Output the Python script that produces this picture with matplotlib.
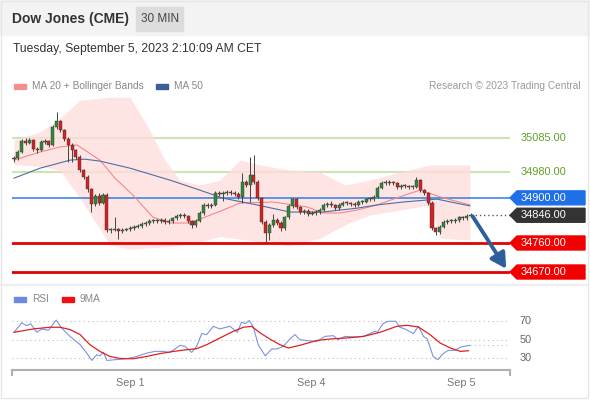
import numpy as np
import matplotlib.pyplot as plt
from matplotlib.patches import Rectangle, Polygon
from matplotlib.lines import Line2D
from matplotlib import transforms

plt.rcParams['font.family'] = ['Liberation Sans', 'DejaVu Sans']

# ---- candles (30 min) ----
first_open = 35020
closes = [35023, 35042, 35076, 35070, 35079, 35051, 35048, 35073, 35076, 35064,
          35120, 35138, 35110, 35082, 35064, 35048, 35027, 34986, 34965, 34927,
          34881, 34906, 34884, 34909, 34800, 34800, 34803, 34797, 34800, 34803,
          34806, 34810, 34813, 34819, 34822, 34828, 34828, 34828, 34831, 34825,
          34828, 34837, 34844, 34847, 34844, 34828, 34816, 34828, 34853, 34878,
          34875, 34878, 34915, 34912, 34915, 34918, 34915, 34912, 34903, 34949,
          34940, 34971, 34949, 34899, 34825, 34791, 34816, 34831, 34822, 34806,
          34840, 34875, 34896, 34872, 34856, 34859, 34850, 34853, 34856, 34862,
          34878, 34881, 34878, 34868, 34878, 34884, 34884, 34881, 34878, 34887,
          34887, 34896, 34896, 34903, 34930, 34946, 34949, 34946, 34946, 34934,
          34937, 34937, 34934, 34934, 34955, 34924, 34915, 34884, 34806, 34794,
          34810, 34825, 34828, 34828, 34831, 34840, 34837, 34844, 34846]
highs = [35030, 35048, 35082, 35085, 35086, 35084, 35058, 35080, 35084, 35080,
         35126, 35166, 35142, 35114, 35088, 35070, 35052, 35032, 34990, 34970,
         34932, 34912, 34914, 34915, 34914, 34808, 34840, 34808, 34806, 34808,
         34812, 34815, 34818, 34824, 34828, 34833, 34834, 34833, 34836, 34836,
         34834, 34842, 34850, 34853, 34852, 34848, 34832, 34834, 34858, 34884,
         34884, 34884, 34920, 34920, 34922, 34923, 34924, 34920, 34917, 34977,
         34955, 35027, 35033, 34954, 34904, 34830, 34822, 34850, 34836, 34828,
         34845, 34880, 34901, 34901, 34876, 34864, 34864, 34858, 34861, 34867,
         34883, 34887, 34890, 34882, 34884, 34890, 34889, 34888, 34886, 34892,
         34892, 34901, 34902, 34908, 34936, 34952, 34956, 34954, 34952, 34950,
         34943, 34942, 34941, 34940, 34965, 34959, 34928, 34919, 34889, 34810,
         34815, 34830, 34833, 34834, 34836, 34845, 34844, 34850, 34852]
lows = [35012, 35018, 35038, 35064, 35066, 35045, 35040, 35044, 35068, 35058,
        35060, 35114, 35104, 35076, 35011, 35011, 35020, 34980, 34958, 34918,
        34856, 34875, 34878, 34880, 34794, 34792, 34796, 34772, 34792, 34796,
        34798, 34800, 34805, 34808, 34814, 34817, 34822, 34821, 34822, 34819,
        34820, 34823, 34832, 34838, 34838, 34822, 34806, 34810, 34824, 34848,
        34869, 34870, 34874, 34906, 34890, 34910, 34909, 34906, 34897, 34884,
        34934, 34887, 34943, 34892, 34818, 34763, 34770, 34810, 34815, 34798,
        34800, 34835, 34870, 34866, 34850, 34851, 34845, 34846, 34848, 34851,
        34858, 34873, 34873, 34862, 34863, 34874, 34878, 34876, 34873, 34874,
        34882, 34883, 34890, 34891, 34898, 34926, 34941, 34940, 34940, 34928,
        34929, 34931, 34929, 34928, 34930, 34918, 34909, 34878, 34800, 34785,
        34789, 34805, 34820, 34822, 34823, 34826, 34831, 34832, 34840]

# ---- indicators (candle index, value) ----
ma20_idx = [0, 6.7, 11.9, 16.3, 22.2, 26.1, 30.7, 35.9, 40.3, 45.5, 54, 58.4,
            66.9, 75.7, 79.8, 84.2, 88.6, 93.8, 99.7, 104.9, 110.1, 117.8]
ma20_val = [35017, 35042, 35058, 35064, 35017, 34961, 34909, 34840, 34822, 34822,
            34862, 34884, 34887, 34872, 34853, 34853, 34862, 34878, 34903, 34924,
            34903, 34878]
ma50_idx = [0, 6.7, 14.5, 18.3, 22.2, 30, 40.3, 48, 54, 62.8, 71.3, 79.8, 88.6,
            93.8, 100.5, 109.3, 117.8]
ma50_val = [34961, 34992, 35017, 35020, 35014, 34992, 34955, 34924, 34899, 34878,
            34856, 34856, 34868, 34878, 34887, 34896, 34875]
bb_idx = [0, 6.7, 11.9, 17, 24.8, 30, 35.1, 39, 42.9, 48, 53.2, 58.4, 63.6,
          71.3, 79.1, 85.5, 92, 99.7, 107.5, 110.1, 117.8]
bb_upper = [35079, 35104, 35147, 35203, 35212, 35212, 35110, 35017, 34955, 34940,
            34955, 35017, 35002, 34986, 34980, 34940, 34955, 34980, 35002, 35002,
            35002]
bb_lower = [35002, 34998, 34985, 34900, 34754, 34741, 34745, 34748, 34752, 34763,
            34780, 34772, 34763, 34751, 34775, 34816, 34847, 34862, 34878, 34775,
            34769]

# ---- levels ----
resistances = [35085, 34980]
pivot = 34900
last_price = 34846
supports = [34760, 34670]

# ---- RSI panel ----
rsi_idx = [0, 2, 3.3, 4.3, 5.9, 7.2, 8.9, 10.9, 12.3, 14.5, 17.1, 18.8, 20.1, 21.4,
           22.2, 23.1, 24, 26.1, 29.1, 31.7, 34.3, 36.4, 38.6, 40.3, 42.9, 44.2,
           45.9, 47.2, 48.5, 49.8, 51.5, 53.2, 55.8, 57.7, 58.8, 59.7, 60.8, 61.8,
           63.1, 64.9, 66.6, 67.9, 69.6, 71.3, 72.6, 73.9, 75.6, 78.2, 80.4, 82.5,
           83.8, 85.5, 88.1, 90.3, 92, 93.3, 93.9, 95.3, 96.7, 98.7, 99.7, 101,
           103.2, 104.5, 105.8, 106.8, 108.3, 109.5, 110.9, 112.2, 113.9, 115.4, 117.8]
rsi_val = [57.9, 68, 65, 67, 58, 61.5, 60, 71, 62.5, 53.5, 44.6, 35.6, 27.7, 33.8,
           32.7, 36.3, 27.7, 28.5, 29.5, 32, 35.6, 37.4, 37.4, 36.3, 43.9, 42.8,
           36.3, 42.8, 56.5, 55.4, 64.3, 61.5, 64.3, 57.9, 68.7, 67.3, 70.4, 64.3,
           44.6, 32.7, 40, 40, 42.8, 50.7, 55.4, 50, 49, 48.2, 53.5, 54.3,
           50, 53.5, 52.9, 53.5, 56.5, 59, 57.9, 67, 69.7, 69.7, 63.3, 61.5,
           56.5, 64.3, 53.5, 50.7, 32, 28.5, 35, 38.5, 38.5, 42.1, 43.9]
ma9_idx = [0, 5, 9.3, 11.9, 14.5, 17.1, 19.6, 22.2, 24.8, 27.4, 30.8, 34.3, 37.7,
           41.2, 44.6, 47.2, 49.8, 53.2, 56.7, 59.3, 61.4, 63.6, 66.1, 68.7, 70.9,
           73.9, 78.2, 81.7, 86, 90.3, 94.6, 98.9, 101.5, 104.5, 107.5, 110.1,
           112.8, 115.4, 117.4]
ma9_val = [57.9, 61.5, 63.3, 63.3, 60.8, 55.4, 44.6, 37.4, 32, 29.8, 29.5, 32, 35,
           37.4, 39.2, 40.3, 44.6, 51.8, 59, 63.3, 64.3, 57.2, 50.7, 44.6, 41,
           44, 49, 50.7, 51.8, 53.5, 57.9, 64.3, 65.4, 63.6, 55.4, 46.4,
           41, 37.4, 38.1]
rsi_levels = [70, 50, 30]
date_pos = [30, 76.7, 115.5]
date_labels = ['Sep 1', 'Sep 4', 'Sep 5']

W, H = 590, 400
X0, STEP = 14, 3.87   # pixel of first candle and candle spacing


def fx(px):
    return px / W


def fy(py):
    return 1 - py / H


fig = plt.figure(figsize=(W / 100, H / 100), dpi=100)

# header / frame
fig.patches.append(Rectangle((0, fy(35)), 1, 35 / H, transform=fig.transFigure,
                             color='#f3f3f3', zorder=0))
fig.patches.append(Rectangle((fx(136), fy(31)), 47 / W, 24 / H, transform=fig.transFigure,
                             color='#dcdcdc', zorder=1))
fig.patches.append(Rectangle((fx(0.5), fy(397.5)), 587.5 / W, 397 / H, transform=fig.transFigure,
                             fill=False, edgecolor='#e6e6e6', lw=1, zorder=1))
fig.add_artist(Line2D([fx(1), fx(588)], [fy(285), fy(285)], color='#eeeeee', lw=1.5))
fig.text(fx(12), fy(19), 'Dow Jones (CME)', fontsize=10, fontweight='bold',
         color='#333333', va='center')
fig.text(fx(160), fy(19), '30 MIN', fontsize=8.5, color='#444444', va='center', ha='center')
fig.text(fx(13), fy(49), 'Tuesday, September 5, 2023 2:10:09 AM CET', fontsize=8.7,
         color='#333333', va='center')

# legends
def legend_item(px, py, color, label):
    fig.patches.append(Rectangle((fx(px), fy(py + 2.5)), 12 / W, 5 / H,
                                 transform=fig.transFigure, color=color))
    fig.text(fx(px + 18), fy(py), label, fontsize=7.3, color='#888888', va='center')

legend_item(14, 86, '#f48f8f', 'MA 20 + Bollinger Bands')
legend_item(156, 86, '#3c5f96', 'MA 50')
legend_item(14, 299, '#6b8ae0', 'RSI')
legend_item(62, 299, '#ee1111', '9MA')
fig.text(fx(581), fy(86), 'Research \u00a9 2023 Trading Central', fontsize=7.3,
         color='#9a9a9a', va='center', ha='right')

xlim = ((12 - X0) / STEP, (510 - X0) / STEP)

# ---- price panel ----
ax = fig.add_axes([fx(12), fy(282), 498 / W, 187 / H])
ax.set_xlim(*xlim)
ax.set_ylim(34639, 35219)
ax.axis('off')

ax.fill_between(bb_idx, bb_lower, bb_upper, color='#ffdcdc', alpha=0.75, lw=0, zorder=1)
ax.plot(ma20_idx, ma20_val, color='#f08a8a', lw=0.8, zorder=3)
ax.plot(ma50_idx, ma50_val, color='#4d6fa3', lw=0.8, zorder=3)

for r in resistances:
    ax.axhline(r, color='#cfe5b8', lw=1.6, zorder=0.5)
ax.axhline(pivot, color='#3f86e6', lw=1.2, zorder=2)
for s in supports:
    ax.axhline(s, color='#e30000', lw=2, zorder=2)

n = len(closes)
idx = np.arange(n)
opens = np.array([first_open] + closes[:-1])
cl = np.array(closes)
up = cl >= opens
cols = np.where(up, '#2f8a3a', '#d52222')
ax.vlines(idx, lows, highs, color='#444444', lw=0.7, zorder=4)
body_bot = np.minimum(opens, cl)
body_h = np.maximum(np.abs(cl - opens), 2.5)
ax.bar(idx, body_h, bottom=body_bot, width=0.8, color=cols, edgecolor='#333333',
       lw=0.3, zorder=5)

ax.plot([n - 1, xlim[1]], [last_price, last_price], color='#555555', lw=1,
        ls=(0, (1, 2)), zorder=3)

ax.annotate('', xy=(127.2, supports[1] + 10), xytext=(n - 0.5, last_price - 3),
            arrowprops=dict(arrowstyle='-|>,head_length=0.9,head_width=0.5',
                            color='#2e5f9c', lw=2.8, shrinkA=0, shrinkB=0), zorder=6)

tr = transforms.blended_transform_factory(ax.transAxes, ax.transData)
half = 7 * 3.1
x_tip, x_body, x_end = 1.0, 1 + 7 / 498, 1 + 75 / 498


def tag(price, face, text_color):
    ax.add_patch(Polygon([(x_tip, price), (x_body, price + half), (x_end, price + half),
                          (x_end, price - half), (x_body, price - half)],
                         closed=True, transform=tr, color=face, clip_on=False, zorder=6))
    ax.text(1 + 11 / 498, price, f'{price:.2f}', transform=tr, color=text_color,
            fontsize=7.9, va='center', ha='left', zorder=7)

for r in resistances:
    ax.text(1 + 11 / 498, r, f'{r:.2f}', transform=tr, color='#5fa02a', fontsize=7.9,
            va='center', ha='left')
tag(pivot, '#1f6fe8', 'white')
tag(last_price, '#333333', 'white')
for s in supports:
    tag(s, '#f20000', 'white')

# ---- RSI panel ----
ax2 = fig.add_axes([fx(12), fy(370), 498 / W, 65 / H])
ax2.set_xlim(*xlim)
ax2.set_ylim(17.45, 87.16)
for sp in ['top', 'left', 'right']:
    ax2.spines[sp].set_visible(False)
ax2.spines['bottom'].set_color('#b0b0b0')
ax2.spines['bottom'].set_linewidth(1.5)
ax2.set_yticks([])
ax2.set_xticks(date_pos)
ax2.set_xticklabels(date_labels, color='#777777', fontsize=7.8)
ax2.tick_params(axis='x', length=0, pad=5.8)
for xe in (0, 1):
    ax2.plot([xe, xe], [0, -0.08], transform=ax2.transAxes, color='#b0b0b0', lw=1.5,
             clip_on=False)

tr2 = transforms.blended_transform_factory(ax2.transAxes, ax2.transData)
for v in rsi_levels:
    ax2.axhline(v, color='#bbbbbb', lw=0.8, ls=(0, (1, 3)))
    ax2.text(1 + 10 / 498, v, str(v), transform=tr2, color='#666666', fontsize=7.8,
             va='center', ha='left')

ax2.plot(rsi_idx, rsi_val, color='#7b93e0', lw=0.8, zorder=3)
ax2.plot(ma9_idx, ma9_val, color='#e02020', lw=0.9, zorder=3)
ax2.plot([rsi_idx[-1], xlim[1]], [rsi_val[-1]] * 2, color='#bbbbbb', lw=0.8,
         ls=(0, (1, 3)))

fig.savefig('out.png', dpi=100)
